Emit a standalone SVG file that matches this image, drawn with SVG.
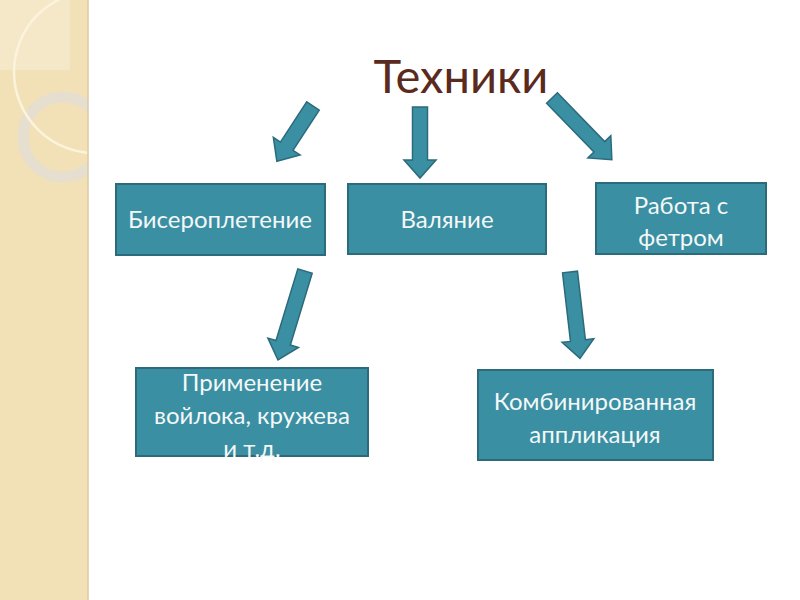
<svg xmlns="http://www.w3.org/2000/svg" width="800" height="600" viewBox="0 0 800 600">
<style>
.box{fill:#3a8fa3;stroke:#2b6b7b;stroke-width:2}
.arr{fill:#3a8fa3;stroke:#2b6b7b;stroke-width:1.5;stroke-linejoin:miter}
.lbl{font-family:Lato,"Open Sans","Liberation Sans",sans-serif;font-size:24px;fill:#f4f8f8;text-anchor:middle}
.title{font-family:Lato,"Open Sans","Liberation Sans",sans-serif;font-size:47px;fill:#5a2a1e;text-anchor:middle}
</style>
<defs>
<clipPath id="strip"><rect x="0" y="0" width="88" height="600"/></clipPath>
</defs>
<rect x="0" y="0" width="800" height="600" fill="#ffffff"/>
<g id="background" clip-path="url(#strip)">
<rect x="0" y="0" width="88" height="600" fill="#f2e1b6"/>
<rect x="0" y="0" width="70" height="70" fill="#f5e8c8"/>
<circle cx="63" cy="137" r="40" fill="none" stroke="#e6dfcf" stroke-width="11"/>
<circle cx="95" cy="72" r="81" fill="none" stroke="#fbf3dc" stroke-width="2.5"/>
</g>
<line x1="88" y1="0" x2="88" y2="600" stroke="#dccaa0" stroke-width="1.5"/>
<g id="title"><text class="title" x="461" y="93">Техники</text></g>
<g id="connectors">
<polygon class="arr" points="0,-7.5 48,-7.5 48,-16 66,0 48,16 48,7.5 0,7.5" transform="translate(313,106) rotate(123.2)"/>
<polygon class="arr" points="0,-7.5 53,-7.5 53,-16 71,0 53,16 53,7.5 0,7.5" transform="translate(420,107) rotate(90)"/>
<polygon class="arr" points="0,-7.5 68,-7.5 68,-16 86,0 68,16 68,7.5 0,7.5" transform="translate(552,98) rotate(45.9)"/>
<polygon class="arr" points="0,-7.5 75,-7.5 75,-16 93,0 75,16 75,7.5 0,7.5" transform="translate(305,271) rotate(106.9)"/>
<polygon class="arr" points="0,-7.5 69,-7.5 69,-16 87,0 69,16 69,7.5 0,7.5" transform="translate(570,272) rotate(83.4)"/>
</g>
<g id="node-biser">
<rect class="box" x="116" y="184" width="209" height="71"/>
<text class="lbl" x="220" y="228">Бисероплетение</text>
</g>
<g id="node-valyanie">
<rect class="box" x="348" y="184" width="198" height="70"/>
<text class="lbl" x="447" y="228">Валяние</text>
</g>
<g id="node-fetr">
<rect class="box" x="596" y="183" width="170" height="71"/>
<text class="lbl" x="681" y="214">Работа с</text>
<text class="lbl" x="681" y="246">фетром</text>
</g>
<g id="node-primenenie">
<rect class="box" x="136" y="368" width="232" height="88"/>
<text class="lbl" x="252" y="391">Применение</text>
<text class="lbl" x="252" y="424">войлока, кружева</text>
<text class="lbl" x="252" y="457">и т.д.</text>
</g>
<g id="node-kombi">
<rect class="box" x="478" y="370" width="235" height="90"/>
<text class="lbl" x="595" y="410">Комбинированная</text>
<text class="lbl" x="595" y="443">аппликация</text>
</g>
</svg>
